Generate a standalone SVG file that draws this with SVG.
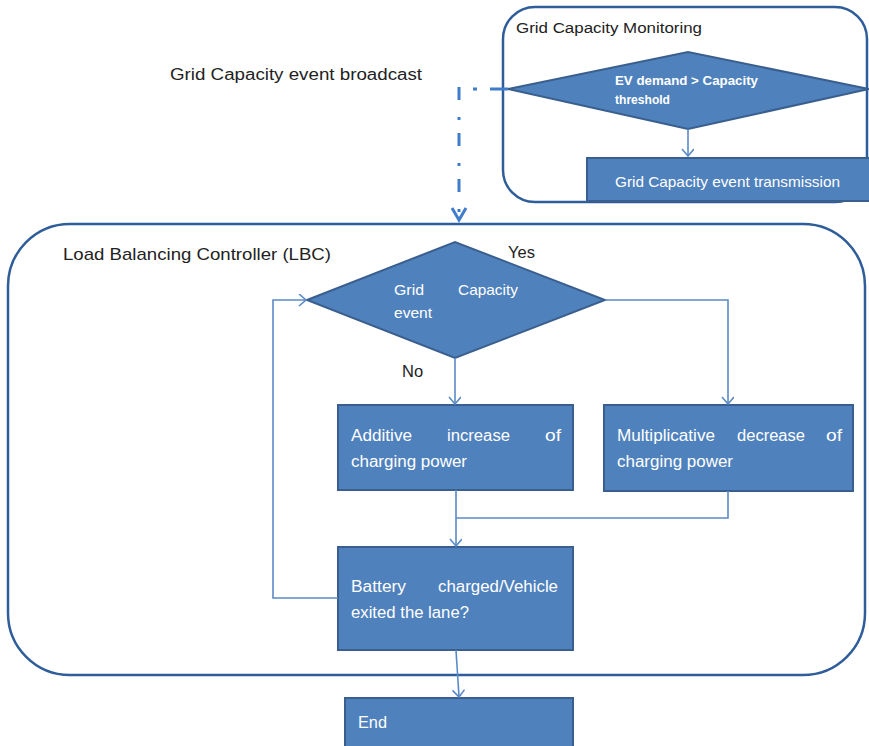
<svg xmlns="http://www.w3.org/2000/svg" width="869" height="746" viewBox="0 0 869 746">
  <style>
    .container { fill: #ffffff; stroke: #2f5d9a; stroke-width: 2.5; }
    .shape { fill: #4f81bd; stroke: #3a5f8e; stroke-width: 2; }
    .wire { fill: none; stroke: #5a8ac6; stroke-width: 1.6; }
    .broadcast { fill: none; stroke: #3f7ccb; stroke-width: 3; }
    .label { font-family: "Liberation Sans", Arial, sans-serif; fill: #222222; }
    .inner { font-family: "Liberation Sans", Arial, sans-serif; fill: #ffffff; }
    .bold { font-weight: bold; }
  </style>
  <defs>
    <marker id="arrow" markerUnits="userSpaceOnUse" markerWidth="14" markerHeight="14" refX="12" refY="6" orient="auto">
      <path d="M5,0 L12,6 L5,12" fill="none" stroke="#5a8ac6" stroke-width="1.6"/>
    </marker>
  </defs>

  <rect width="869" height="746" fill="#ffffff"/>

  <!-- Grid Capacity Monitoring container -->
  <g id="monitoring">
    <rect class="container" x="503" y="7" width="364" height="195" rx="32" ry="32"/>
    <text class="label" x="516" y="33" font-size="15.5" textLength="186" lengthAdjust="spacingAndGlyphs">Grid Capacity Monitoring</text>
  </g>

  <g id="demand-check">
    <polygon class="shape" points="508,89 688,52 869,89 688,129"/>
    <text class="inner bold" x="615" y="85" font-size="12.5" textLength="143" lengthAdjust="spacingAndGlyphs">EV demand &gt; Capacity</text>
    <text class="inner bold" x="615" y="104" font-size="12.5" textLength="55" lengthAdjust="spacingAndGlyphs">threshold</text>
  </g>

  <g id="event-transmission">
    <rect class="shape" x="587" y="158" width="290" height="43"/>
    <text class="inner" x="615" y="187" font-size="14.5" textLength="225" lengthAdjust="spacingAndGlyphs">Grid Capacity event transmission</text>
  </g>

  <text class="label" x="170" y="80" font-size="16" textLength="252" lengthAdjust="spacingAndGlyphs">Grid Capacity event broadcast</text>

  <!-- Load Balancing Controller container -->
  <g id="lbc">
    <rect class="container" x="8" y="224" width="857" height="451" rx="62" ry="62"/>
    <text class="label" x="63" y="260" font-size="17" textLength="268" lengthAdjust="spacingAndGlyphs">Load Balancing  Controller (LBC)</text>
  </g>

  <g id="grid-event">
    <polygon class="shape" points="307,300 455,242 605,300 455,358"/>
    <text class="inner" x="394" y="295" font-size="14.5" textLength="30" lengthAdjust="spacingAndGlyphs">Grid</text>
    <text class="inner" x="458" y="295" font-size="14.5" textLength="60" lengthAdjust="spacingAndGlyphs">Capacity</text>
    <text class="inner" x="394" y="318" font-size="14.5" textLength="38" lengthAdjust="spacingAndGlyphs">event</text>
  </g>

  <g id="additive">
    <rect class="shape" x="338" y="405" width="235" height="85"/>
    <text class="inner" x="351" y="441" font-size="16" textLength="61" lengthAdjust="spacingAndGlyphs">Additive</text>
    <text class="inner" x="447" y="441" font-size="16" textLength="63" lengthAdjust="spacingAndGlyphs">increase</text>
    <text class="inner" x="545" y="441" font-size="16" textLength="16" lengthAdjust="spacingAndGlyphs">of</text>
    <text class="inner" x="351" y="467" font-size="16" textLength="116" lengthAdjust="spacingAndGlyphs">charging power</text>
  </g>

  <g id="multiplicative">
    <rect class="shape" x="604" y="405" width="249" height="86"/>
    <text class="inner" x="617" y="441" font-size="16" textLength="98" lengthAdjust="spacingAndGlyphs">Multiplicative</text>
    <text class="inner" x="737" y="441" font-size="16" textLength="68" lengthAdjust="spacingAndGlyphs">decrease</text>
    <text class="inner" x="826" y="441" font-size="16" textLength="16" lengthAdjust="spacingAndGlyphs">of</text>
    <text class="inner" x="617" y="467" font-size="16" textLength="116" lengthAdjust="spacingAndGlyphs">charging power</text>
  </g>

  <g id="battery-check">
    <rect class="shape" x="338" y="547" width="235" height="103"/>
    <text class="inner" x="351" y="592" font-size="16" textLength="55" lengthAdjust="spacingAndGlyphs">Battery</text>
    <text class="inner" x="438" y="592" font-size="16" textLength="120" lengthAdjust="spacingAndGlyphs">charged/Vehicle</text>
    <text class="inner" x="351" y="618" font-size="16" textLength="118" lengthAdjust="spacingAndGlyphs">exited the lane?</text>
  </g>

  <g id="end">
    <rect class="shape" x="345" y="698" width="228" height="60"/>
    <text class="inner" x="358" y="728" font-size="16" textLength="29" lengthAdjust="spacingAndGlyphs">End</text>
  </g>

  <!-- Connectors -->
  <g id="connectors">
    <!-- dash-dot broadcast line from the threshold check down into the LBC -->
    <path class="broadcast" d="M508,89 L490,89 M477,89 L473,89"/>
    <path class="broadcast" d="M459,87 L459,212" stroke-dasharray="13 17 3 13"/>
    <path class="broadcast" d="M452,208 L459,220 L466,208" stroke-width="2.5"/>

    <path class="wire" d="M688,129 L688,156" marker-end="url(#arrow)"/>
    <path class="wire" d="M605,300 L728,300 L728,404" marker-end="url(#arrow)"/>
    <path class="wire" d="M455,358 L455,404" marker-end="url(#arrow)"/>
    <path class="wire" d="M456,490 L456,546" marker-end="url(#arrow)"/>
    <path class="wire" d="M728,491 L728,518 L456,518"/>
    <path class="wire" d="M338,598 L273,598 L273,300 L306,300" marker-end="url(#arrow)"/>
    <path class="wire" d="M456,650 L459,697" marker-end="url(#arrow)"/>
  </g>

  <text class="label" x="508" y="258" font-size="16.5">Yes</text>
  <text class="label" x="402" y="377" font-size="16.5">No</text>
</svg>
